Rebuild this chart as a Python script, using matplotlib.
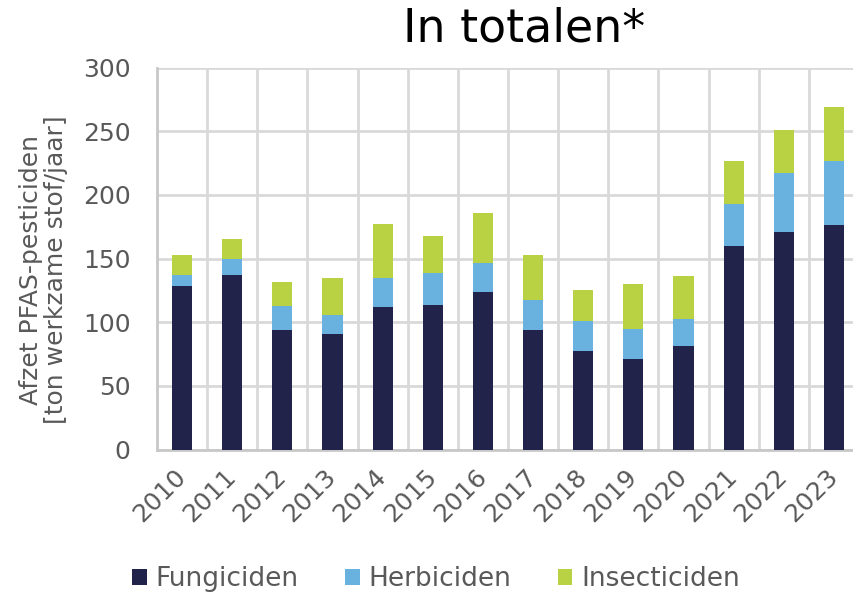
import matplotlib
matplotlib.use("Agg")
import matplotlib.pyplot as plt
import numpy as np

plt.rcParams['font.family'] = ['DejaVu Sans']

years = ['2010', '2011', '2012', '2013', '2014', '2015', '2016',
         '2017', '2018', '2019', '2020', '2021', '2022', '2023']
fungiciden = [128.5, 137.1, 93.9, 90.7, 112.0, 113.6, 123.7,
              93.9, 77.4, 71.1, 81.3, 159.9, 170.9, 176.4]
herbiciden = [8.6, 12.6, 18.8, 15.0, 22.8, 25.1, 22.8,
              23.6, 23.6, 23.6, 21.2, 33.0, 46.4, 50.3]
insecticiden = [15.7, 15.7, 18.9, 29.1, 42.4, 29.1, 39.3,
                35.3, 24.3, 35.3, 33.8, 33.8, 33.7, 42.4]

c_fung = '#21234A'
c_herb = '#69B1DE'
c_insect = '#B8D243'
grey = '#595959'
gridc = '#D9D9D9'

fig = plt.figure(figsize=(8.54, 5.93), dpi=100)
ax = fig.add_axes([157 / 854, 143.5 / 593, 702 / 854, 381.8 / 593])

x = np.arange(len(years))
f = np.array(fungiciden)
h = np.array(herbiciden)
i = np.array(insecticiden)

ax.bar(x, f, width=0.4, color=c_fung, label='Fungiciden', zorder=3)
ax.bar(x, h, width=0.4, bottom=f, color=c_herb, label='Herbiciden', zorder=3)
ax.bar(x, i, width=0.4, bottom=f + h, color=c_insect, label='Insecticiden', zorder=3)

ax.set_xlim(-0.5, len(years) - 0.5)
ax.set_ylim(0, 300)
ax.set_yticks(range(0, 301, 50))
ax.set_xticks(x)
ax.set_xticklabels(years, rotation=45, ha='right', va='center',
                   rotation_mode='anchor')
ax.set_xticks(np.arange(0.5, len(years) - 0.5, 1), minor=True)

ax.grid(axis='y', which='major', color=gridc, linewidth=2, zorder=0)
ax.grid(axis='x', which='minor', color=gridc, linewidth=2, zorder=0)
ax.tick_params(axis='both', which='both', length=0)
ax.tick_params(axis='y', labelsize=18, labelcolor=grey, pad=19)
ax.tick_params(axis='x', labelsize=18, labelcolor=grey, pad=17)

for s in ['top', 'right']:
    ax.spines[s].set_visible(False)
for s in ['left', 'bottom']:
    ax.spines[s].set_color('#C8C8C8')
    ax.spines[s].set_linewidth(2)

ax.set_ylabel('Afzet PFAS-pesticiden\n[ton werkzame stof/jaar]',
              fontsize=18, color=grey, linespacing=1.05)
ax.yaxis.set_label_coords(-0.127, 0.47)

fig.text(524 / 854, 1 - 29 / 593, 'In totalen*', fontsize=33,
         ha='center', va='center', color='black')

fig.legend(loc='center', bbox_to_anchor=(436 / 854, 1 - 579 / 593), ncol=3,
           frameon=False, fontsize=19, labelcolor=grey, handlelength=0.55,
           handleheight=0.55, handletextpad=0.34, columnspacing=1.75)

fig.savefig('out.png', dpi=100)
